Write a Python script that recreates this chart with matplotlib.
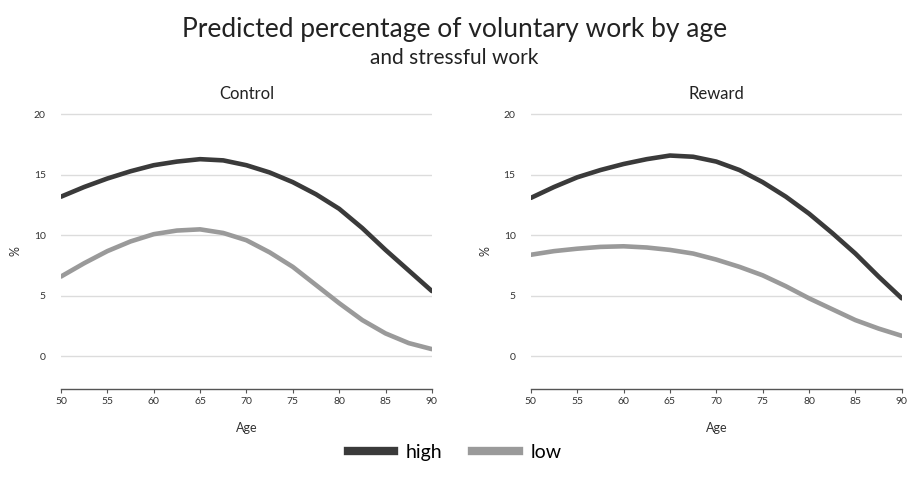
import matplotlib
matplotlib.use("Agg")
import matplotlib.pyplot as plt
from matplotlib.lines import Line2D

plt.rcParams['font.family'] = ['Lato', 'DejaVu Sans']

# ages (2.5 year steps)
age = [50, 52.5, 55, 57.5, 60, 62.5, 65, 67.5, 70, 72.5, 75, 77.5, 80, 82.5, 85, 87.5, 90]

control_high = [13.2, 14.0, 14.7, 15.3, 15.8, 16.1, 16.3, 16.2, 15.8, 15.2, 14.4, 13.4, 12.2, 10.6, 8.8, 7.1, 5.4]
control_low = [6.6, 7.7, 8.7, 9.5, 10.1, 10.4, 10.5, 10.2, 9.6, 8.6, 7.4, 5.9, 4.4, 3.0, 1.9, 1.1, 0.6]
reward_high = [13.1, 14.0, 14.8, 15.4, 15.9, 16.3, 16.6, 16.5, 16.1, 15.4, 14.4, 13.2, 11.8, 10.2, 8.5, 6.6, 4.8]
reward_low = [8.4, 8.7, 8.9, 9.05, 9.1, 9.0, 8.8, 8.5, 8.0, 7.4, 6.7, 5.8, 4.8, 3.9, 3.0, 2.3, 1.7]

panels = ["Control", "Reward"]
series = {"Control": (control_high, control_low), "Reward": (reward_high, reward_low)}
xticks = [50, 55, 60, 65, 70, 75, 80, 85, 90]
yticks = [0, 5, 10, 15, 20]

col_high = '#3a3a3a'
col_low = '#9a9a9a'

fig = plt.figure(figsize=(9.09, 4.9), dpi=100)
lefts = [0.0671, 0.584]

for name, left in zip(panels, lefts):
    ax = fig.add_axes([left, 0.206, 0.408, 0.563])
    high, low = series[name]
    ax.plot(age, high, color=col_high, lw=3.3, solid_capstyle='round', solid_joinstyle='round')
    ax.plot(age, low, color=col_low, lw=3.3, solid_capstyle='round', solid_joinstyle='round')
    ax.set_xlim(50, 90)
    ax.set_ylim(-2.7, 20.1)
    ax.set_xticks(xticks)
    ax.set_yticks(yticks)
    ax.grid(axis='y', color='#dcdcdc', lw=1)
    ax.set_axisbelow(True)
    for s in ['top', 'right', 'left']:
        ax.spines[s].set_visible(False)
    ax.spines['bottom'].set_color('#555555')
    ax.spines['bottom'].set_linewidth(1)
    ax.tick_params(axis='y', length=0, pad=11, labelsize=7.5, labelcolor='#333333')
    ax.tick_params(axis='x', length=3, color='#555555', labelsize=7.5, labelcolor='#333333', pad=3)
    ax.set_xlabel('Age', fontsize=9, color='#333333', labelpad=11)
    ax.set_ylabel('%', fontsize=9, color='#333333', labelpad=9)
    ax.set_title(name, fontsize=12, color='#222222', pad=10)

fig.text(0.5, 0.94, 'Predicted percentage of voluntary work by age', ha='center', va='center',
         fontsize=19, color='#222222')
fig.text(0.5, 0.882, 'and stressful work', ha='center', va='center', fontsize=15, color='#222222')

handles = [Line2D([0], [0], color=col_high, lw=6), Line2D([0], [0], color=col_low, lw=6)]
fig.legend(handles, ['high', 'low'], loc='center', bbox_to_anchor=(0.5, 0.077), ncol=2,
           frameon=False, fontsize=14, handlelength=2.4, columnspacing=1.5, handletextpad=0.6)

fig.savefig('out.png', dpi=100)
